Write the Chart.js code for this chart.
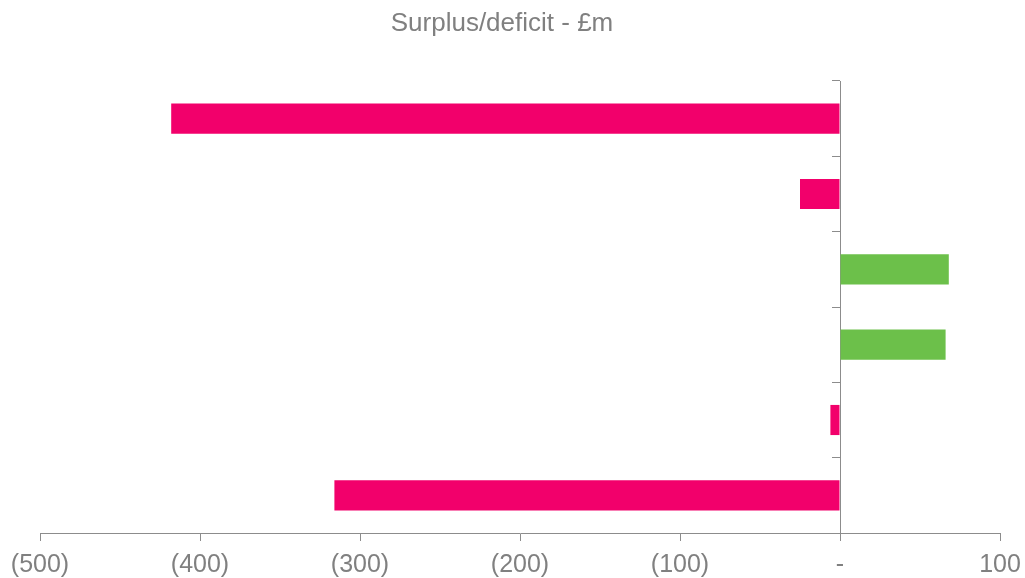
<!DOCTYPE html>
<html>
<head>
<meta charset="utf-8">
<script src="https://cdn.jsdelivr.net/npm/chart.js@4/dist/chart.umd.min.js"></script>
<style>
  html, body { margin: 0; padding: 0; background: #fff; }
  #wrap { width: 1025px; height: 578px; }
</style>
</head>
<body>
<div id="wrap"><canvas id="surplusChart"></canvas></div>
<script>
// data
const categories = ['Row 1', 'Row 2', 'Row 3', 'Row 4', 'Row 5', 'Row 6'];
const surplus = [-418, -25, 68, 66, -6, -316];
const xTicks = [-500, -400, -300, -200, -100, 0, 100];
const titleText = 'Surplus/deficit - £m';

const grey = '#808080';
const axisGrey = '#8c8c8c';

// title drawn by hand so it can sit slightly left of centre like the original
const titlePlugin = {
    id: 'manualTitle',
    afterDraw(chart) {
        const ctx = chart.ctx;
        ctx.save();
        ctx.font = '26px "Liberation Sans", Arial, sans-serif';
        ctx.fillStyle = grey;
        ctx.textAlign = 'center';
        ctx.textBaseline = 'middle';
        ctx.fillText(titleText, 502, 24);
        ctx.restore();
    }
};

Chart.defaults.font.family = '"Liberation Sans", Arial, sans-serif';

const ctx = document.getElementById('surplusChart').getContext('2d');
new Chart(ctx, {
    type: 'bar',
    data: {
        labels: categories,
        datasets: [{
            data: surplus,
            backgroundColor: (c) => (c.raw < 0 ? '#f2006b' : '#6cc04a'),
            borderWidth: 0,
            barPercentage: 0.4,
            categoryPercentage: 1
        }]
    },
    plugins: [titlePlugin],
    options: {
        indexAxis: 'y',
        responsive: true,
        maintainAspectRatio: false,
        animation: false,
        layout: {
            padding: { top: 81, left: 40, right: 25, bottom: 0 }
        },
        plugins: {
            legend: { display: false },
            title: { display: false },
            tooltip: { enabled: false }
        },
        scales: {
            x: {
                type: 'linear',
                min: -500,
                max: 100,
                afterBuildTicks: (scale) => {
                    scale.ticks = xTicks.map(v => ({ value: v }));
                },
                // fixed axis box so the plot spans 40..1000 and ends at y=533
                afterFit: (scale) => {
                    scale.height = 45;
                    scale.paddingLeft = 0;
                    scale.paddingRight = 0;
                },
                grid: {
                    drawOnChartArea: false,
                    drawTicks: true,
                    tickLength: 8,
                    color: axisGrey
                },
                border: { display: true, color: axisGrey, width: 1 },
                ticks: {
                    color: grey,
                    font: { size: 25, lineHeight: 1.0 },
                    padding: 12,
                    maxRotation: 0,
                    callback: function (value) {
                        if (value < 0) return '(' + Math.abs(value) + ')';
                        if (value === 0) return '-';
                        return String(value);
                    }
                }
            },
            y: {
                type: 'category',
                position: { x: 0 },
                offset: true,
                grid: {
                    offset: true,
                    drawOnChartArea: false,
                    drawTicks: true,
                    tickLength: 8,
                    color: axisGrey
                },
                border: { display: true, color: axisGrey, width: 1 },
                ticks: { display: false }
            }
        }
    }
});
</script>
</body>
</html>
